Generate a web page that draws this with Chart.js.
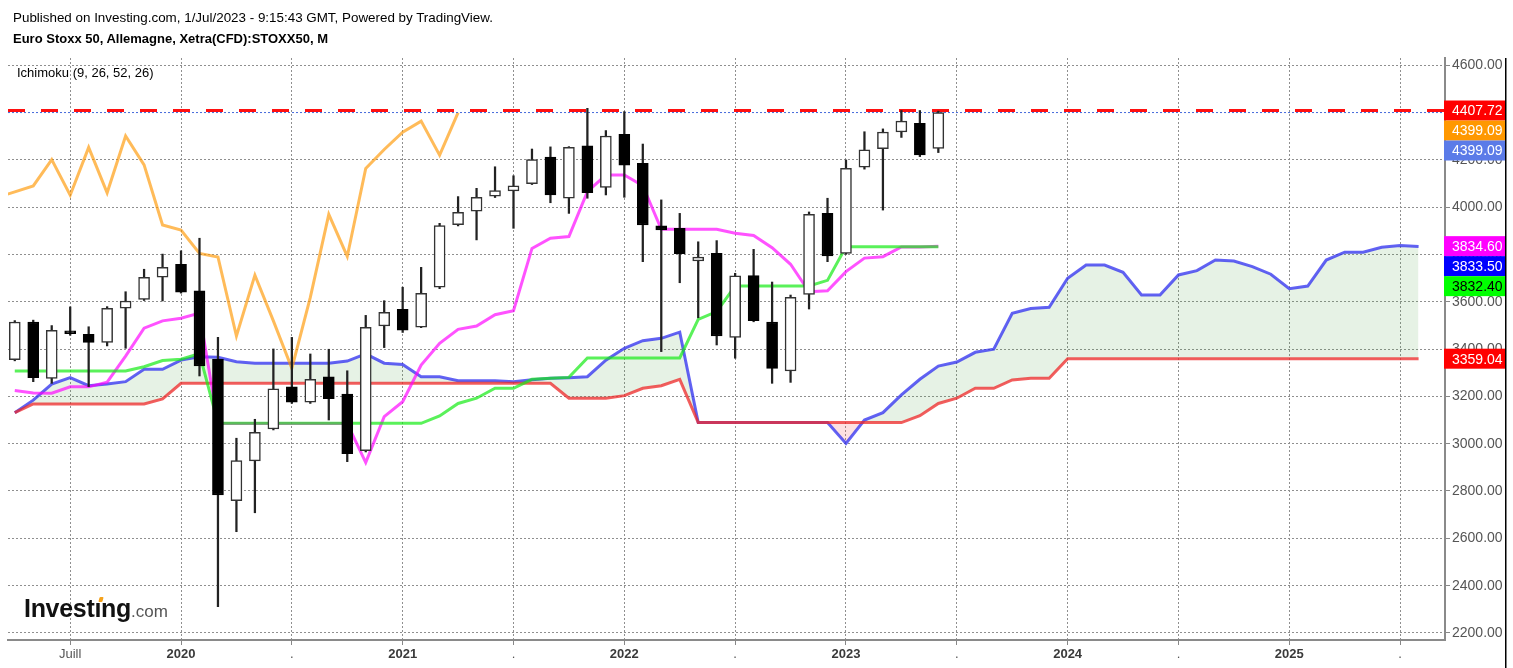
<!DOCTYPE html>
<html>
<head>
<meta charset="utf-8">
<title>Euro Stoxx 50 - Ichimoku</title>
<script src="https://cdn.jsdelivr.net/npm/chart.js@4.4.0/dist/chart.umd.min.js"></script>
<style>
  html, body { margin: 0; padding: 0; background: #fff; }
  #wrap { position: relative; width: 1513px; height: 668px; overflow: hidden; font-family: "Liberation Sans", Arial, sans-serif; }
  #chart { position: absolute; left: 0; top: 0; }
  .txt { position: absolute; white-space: nowrap; font-size: 13px; line-height: 16px; color: #000; }
  #logo { position: absolute; left: 24px; top: 596px; line-height: 25px; white-space: nowrap; }
  #logo .big { font-weight: bold; font-size: 25px; letter-spacing: -0.3px; color: #111; }
  #logo .small { font-size: 17px; color: #555; }
  #logoDot { position: absolute; left: 99px; top: 597px; width: 4px; height: 5px; background: #f5a21c; border-radius: 1px; transform: skewX(-15deg); }
</style>
</head>
<body>
<div id="wrap">
  <canvas id="chart" width="1513" height="668"></canvas>
  <div class="txt" style="left:13px; top:10px; font-size:13.4px;">Published on Investing.com, 1/Jul/2023 - 9:15:43 GMT, Powered by TradingView.</div>
  <div class="txt" style="left:13px; top:31px; font-weight:bold;">Euro Stoxx 50, Allemagne, Xetra(CFD):STOXX50, M</div>
  <div class="txt" style="left:17px; top:65px;">Ichimoku (9, 26, 52, 26)</div>
  <div id="logo"><span class="big">Investıng</span><span class="small">.com</span></div>
  <div id="logoDot"></div>
</div>
<script>
// --- month axis (categories) ---
const monthAxis = [
  '2019-03','2019-04','2019-05','2019-06','2019-07','2019-08','2019-09','2019-10','2019-11','2019-12',
  '2020-01','2020-02','2020-03','2020-04','2020-05','2020-06','2020-07','2020-08','2020-09','2020-10','2020-11','2020-12',
  '2021-01','2021-02','2021-03','2021-04','2021-05','2021-06','2021-07','2021-08','2021-09','2021-10','2021-11','2021-12',
  '2022-01','2022-02','2022-03','2022-04','2022-05','2022-06','2022-07','2022-08','2022-09','2022-10','2022-11','2022-12',
  '2023-01','2023-02','2023-03','2023-04','2023-05','2023-06','2023-07','2023-08','2023-09','2023-10','2023-11','2023-12',
  '2024-01','2024-02','2024-03','2024-04','2024-05','2024-06','2024-07','2024-08','2024-09','2024-10','2024-11','2024-12',
  '2025-01','2025-02','2025-03','2025-04','2025-05','2025-06','2025-07','2025-08'
];

const xTickMonths = ['2019-07','2020-01','2020-07','2021-01','2021-07','2022-01','2022-07','2023-01','2023-07','2024-01','2024-07','2025-01','2025-07'];
const xTickLabels = ['Juill','2020','.','2021','.','2022','.','2023','.','2024','.','2025','.'];
const yTicks = [2200, 2400, 2600, 2800, 3000, 3200, 3400, 3600, 3800, 4000, 4200, 4400, 4600];

// --- monthly candles, Apr 2019 .. Jun 2023 ---
const candleStart = '2019-04';
const openVals = [
  3355,3514,3276,3477,3462,3428,3572,3610,3703,
  3758,3646,3357,2759,2927,3062,3240,3175,3282,3209,2970,3497,
  3568,3492,3661,3925,3982,4046,4068,4099,4211,4037,4259,4083,
  4307,4185,3920,3910,3772,3804,3449,3710,3514,3307,3631,3973,
  3804,4168,4246,4317,4354,4248
];
const highVals = [
  3520,3522,3499,3578,3494,3579,3642,3737,3801,
  3815,3868,3449,3023,3103,3400,3449,3379,3399,3308,3542,3604,
  3661,3745,3931,4044,4079,4170,4132,4245,4254,4255,4417,4323,
  4403,4266,4030,3973,3853,3858,3720,3821,3683,3628,3979,4037,
  4199,4318,4330,4407.72,4407.72,4405
];
const lowVals = [
  3350,3262,3255,3458,3241,3413,3403,3605,3603,
  3636,3286,2311,2628,2708,3058,3170,3170,3100,2924,2965,3406,
  3470,3490,3655,3920,3861,4040,3910,4095,4018,3973,4037,4051,
  4041,3769,3389,3680,3532,3417,3361,3515,3255,3259,3569,3769,
  3800,4160,3987,4294,4213,4230
];
const closeVals = [
  3514,3279,3479,3465,3428,3572,3603,3703,3745,
  3640,3328,2783,2928,3048,3232,3175,3272,3190,2958,3492,3555,
  3480,3635,3921,3978,4041,4069,4089,4200,4051,4252,4061,4300,
  4177,3924,3903,3803,3788,3455,3709,3520,3318,3618,3969,3793,
  4163,4242,4317,4363,4220,4399.09
];

// --- Ichimoku (9, 26, 52, 26) ---
const tenkanStart = '2019-04';
const tenkanVals = [
  3225,3214,3213,3240,3240,3260,3370,3488,3519,
  3530,3552,3085,3085,3085,3085,3085,3085,3085,3085,2920,3114,
  3177,3332,3424,3483,3497,3545,3562,3825,3868,3875,4065,4135,
  4135,4090,3906,3906,3906,3906,3889,3880,3828,3758,3642,3646,
  3727,3784,3790,3831,3831,3834.6
];
const kijunStart = '2019-04';
const kijunVals = [
  3307,3307,3307,3307,3307,3307,3307,3325,3351,
  3357,3380,3086,3086,3086,3086,3086,3086,3086,3086,3086,3086,
  3086,3086,3117,3170,3192,3234,3234,3272,3276,3280,3362,3362,
  3362,3362,3362,3362,3525,3558,3666,3666,3666,3666,3666,3690,
  3832.4,3832.4,3832.4,3832.4,3832.4,3832.4
];
const chikouStart = '2019-03';
const chikouVals = [
  4039,4064,4089,4200,4050,4252,4060,4300,4178,3924,
  3903,3804,3789,3455,3712,3519,3318,3618,3969,3791,4163,4243,
  4316,4363,4219,4399.09
];
const spanStart = '2019-04';
const spanAVals = [
  3131,3184,3252,3279,3245,3252,3262,3314,3314,
  3353,3367,3365,3346,3340,3340,3340,3340,3340,3349,3379,3340,
  3335,3283,3283,3266,3266,3266,3262,3270,3276,3279,3283,3353,
  3403,3435,3445,3471,3089,3089,3089,3089,3089,3089,3089,3089,
  3001,3100,3131,3206,3272,3328,3345,3386,3399,3551,3571,3576,
  3699,3755,3755,3724,3628,3628,3713,3731,3776,3772,3748,3716,
  3655,3666,3776,3809,3809,3830,3837,3833.5
];
const spanBVals = [
  3131,3168,3168,3168,3168,3168,3168,3168,3189,
  3255,3255,3255,3255,3255,3255,3255,3255,3255,3255,3255,3255,
  3255,3255,3255,3255,3255,3255,3255,3255,3255,3192,3192,3192,
  3203,3234,3245,3272,3089,3089,3089,3089,3089,3089,3089,3089,
  3089,3089,3089,3089,3118,3170,3192,3234,3234,3269,3276,3276,
  3359.04,3359.04,3359.04,3359.04,3359.04,3359.04,3359.04,3359.04,3359.04,3359.04,3359.04,3359.04,
  3359.04,3359.04,3359.04,3359.04,3359.04,3359.04,3359.04,3359.04
];

// horizontal levels and right-hand price tags
const resistanceLevel = 4407.72;
const lastPrice = 4399.09;
const tagValues = [4407.72, 4399.09, 4399.09, 3834.60, 3833.50, 3832.40, 3359.04];
const tagColors = ['#ff0000', '#ff9800', '#5b7be8', '#ff00ff', '#0000ff', '#00ff00', '#ff0000'];
const tagTextColors = ['#fff', '#fff', '#fff', '#fff', '#fff', '#000', '#fff'];

// --- helpers ---
const FONT = '"Liberation Sans", Arial, sans-serif';
const xMin = 0.633, xMax = 78.43;      // visible month range
const yMin = 2170.4, yMax = 4629.6;

function monthPos(m) { return monthAxis.indexOf(m); }
function toPoints(start, vals) {
    const s = monthPos(start);
    return vals.map((v, k) => ({ x: s + k, y: v }));
}
function lineSet(data, color, order) {
    return { type: 'line', data: data, borderColor: color, borderWidth: 3, pointRadius: 0, tension: 0, fill: false, order: order };
}

// candles: wick = low..high, body = open..close
const cStart = monthPos(candleStart);
const wickData = highVals.map((h, k) => ({ x: cStart + k, y: [lowVals[k], h] }));
const bodyData = openVals.map((o, k) => ({ x: cStart + k, y: [o, closeVals[k]] }));
const isUp = openVals.map((o, k) => closeVals[k] >= o);

const spanA = lineSet(toPoints(spanStart, spanAVals), 'rgba(45,45,240,0.75)', 6);
spanA.fill = { target: 1, above: 'rgba(76,160,70,0.14)', below: 'rgba(240,70,70,0.16)' };

const datasets = [
    spanA,
    lineSet(toPoints(spanStart, spanBVals), 'rgba(238,40,40,0.75)', 5),
    lineSet(toPoints(kijunStart, kijunVals), 'rgba(20,235,20,0.7)', 4),
    lineSet(toPoints(tenkanStart, tenkanVals), 'rgba(255,0,255,0.68)', 4),
    lineSet(toPoints(chikouStart, chikouVals), 'rgba(255,150,0,0.65)', 4),
    Object.assign(lineSet([{ x: xMin, y: resistanceLevel }, { x: xMax, y: resistanceLevel }], '#ff1010', 3), { borderDash: [17, 16] }),
    Object.assign(lineSet([{ x: xMin, y: lastPrice }, { x: xMax, y: lastPrice }], '#4a6fe0', 3), { borderWidth: 1, borderDash: [2, 2] }),
    {
        type: 'bar', data: wickData, backgroundColor: '#222', borderWidth: 0,
        barThickness: 1.6, grouped: false, order: 2
    },
    {
        type: 'bar', data: bodyData,
        backgroundColor: isUp.map(u => u ? '#ffffff' : '#000000'),
        borderColor: isUp.map(u => u ? '#333333' : '#000000'),
        borderWidth: 1.5, borderSkipped: false, barThickness: 11, grouped: false, order: 1
    }
];

// price tags on the y axis + right frame line
const tagPlugin = {
    id: 'priceTags',
    afterDraw(chart) {
        const { ctx, chartArea } = chart;
        const y = chart.scales.y;
        let prevY = -Infinity;
        ctx.save();
        ctx.font = '14px ' + FONT;
        ctx.textBaseline = 'middle';
        tagValues.forEach((v, k) => {
            const py = Math.max(y.getPixelForValue(v), prevY + 20);
            prevY = py;
            ctx.fillStyle = tagColors[k];
            ctx.fillRect(chartArea.right - 1, py - 10, 62, 20);
            ctx.fillStyle = tagTextColors[k];
            ctx.fillText(v.toFixed(2), chartArea.right + 7, py + 1);
        });
        ctx.fillStyle = '#000';
        ctx.fillRect(chartArea.right + 60, chartArea.top, 1.5, chart.height - chartArea.top);
        ctx.restore();
    }
};

const gridStyle = { color: '#8f8f8f', lineWidth: 1, tickLength: 5, tickColor: '#888', tickWidth: 1, offset: false };
const borderStyle = { display: true, color: '#8a8a8a', width: 2, dash: [2, 2] };

new Chart(document.getElementById('chart'), {
    type: 'line',
    data: { datasets: datasets },
    options: {
        responsive: false,
        animation: false,
        events: [],
        layout: { padding: { left: 8, right: 8, top: 58, bottom: 0 } },
        plugins: {
            legend: { display: false },
            tooltip: { enabled: false },
            filler: { drawTime: 'beforeDatasetsDraw' }
        },
        scales: {
            x: {
                type: 'linear', min: xMin, max: xMax, offset: false,
                afterBuildTicks: s => { s.ticks = xTickMonths.map(m => ({ value: monthPos(m) })); },
                afterFit: s => { s.height = 28; },
                ticks: {
                    autoSkip: false, maxRotation: 0, padding: 2,
                    color: c => /^\d/.test(xTickLabels[c.index]) ? '#3a3a3a' : '#555',
                    font: c => ({ family: FONT, size: 13, weight: /^\d/.test(xTickLabels[c.index]) ? 'bold' : 'normal' }),
                    callback: (v, i) => xTickLabels[i]
                },
                grid: gridStyle,
                border: borderStyle
            },
            y: {
                type: 'linear', position: 'right', min: yMin, max: yMax,
                afterBuildTicks: s => { s.ticks = yTicks.map(v => ({ value: v })); },
                afterFit: s => { s.width = 60; },
                ticks: {
                    padding: 2, color: '#555',
                    font: { family: FONT, size: 14 },
                    callback: v => v.toFixed(2)
                },
                grid: gridStyle,
                border: borderStyle
            }
        }
    },
    plugins: [tagPlugin]
});
</script>
</body>
</html>
